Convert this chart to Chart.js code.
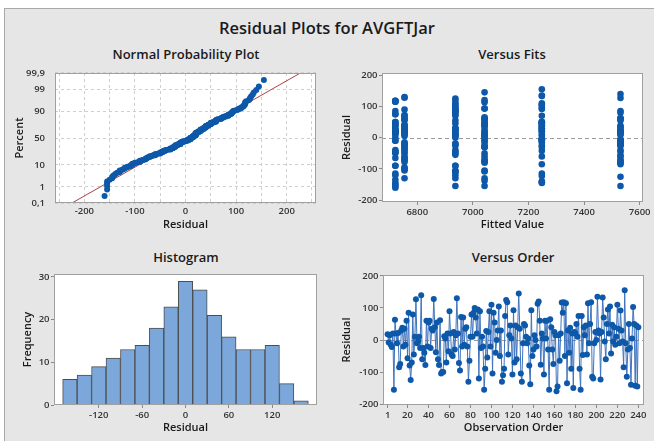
<!DOCTYPE html>
<html><head><meta charset="utf-8">
<script src="https://cdn.jsdelivr.net/npm/chart.js@4.4.1/dist/chart.umd.min.js"></script>
<style>
html,body{margin:0;padding:0;background:#fff;width:654px;height:441px;overflow:hidden;font-family:"Open Sans",sans-serif;}
#frame{position:absolute;left:4px;top:8px;width:650px;height:433px;background:#e6e6e6;border-left:1px solid #a8a8a8;border-top:1px solid #a8a8a8;box-sizing:border-box;}
.t{position:absolute;transform:translate(-50%,-50%);white-space:nowrap;font-weight:600;color:#1a1a1a;}
canvas{position:absolute;}
</style></head><body>
<div id="frame"></div>
<div class="t" style="left:327px;top:27px;font-size:16.5px">Residual Plots for AVGFTJar</div>
<div class="t" style="left:186px;top:54px;font-size:13px">Normal Probability Plot</div>
<div class="t" style="left:512px;top:54px;font-size:13px">Versus Fits</div>
<div class="t" style="left:186px;top:257px;font-size:13px">Histogram</div>
<div class="t" style="left:513px;top:257px;font-size:13px">Versus Order</div>
<canvas id="c1" width="327" height="200" style="left:0;top:40px"></canvas>
<canvas id="c2" width="327" height="200" style="left:327px;top:40px"></canvas>
<canvas id="c3" width="327" height="201" style="left:0;top:240px"></canvas>
<canvas id="c4" width="327" height="201" style="left:327px;top:240px"></canvas>
<script>
// ---- data ----
const residuals = [
 18, -8, 15, -15, -22, 20, -155, 63, 20, -10,
 22, -85, -75, 30, 38, -20, 35, -15, 60, -57,
 85, -80, -125, -70, 80, -45, 10, 127, -10, -5,
 10, -25, 140, -60, -25, -40, -78, 60, -20, 55,
 60, -25, 35, 30, 128, 40, -38, 55, -60, -78,
 62, -105, -100, -100, 12, 5, -70, 20, -35, 90,
 20, -45, -50, 25, -30, 15, 130, 20, -72, -95,
 72, -20, 70, -15, 35, 40, -20, -130, -65, 10,
 80, 10, 85, 100, 70, 20, 95, -120, 90, -25,
 10, -20, -155, -90, 28, -55, 25, 90, -20, 110,
 -105, 85, 55, -40, 0, 30, 105, -50, 30, -130,
 -110, -90, 75, 125, 118, -45, 15, 45, 5, -108,
 93, -70, 45, -60, 40, 145, 35, -105, -130, -10,
 50, 45, 10, -10, 5, -80, -138, 93, -50, -30,
 15, 0, -20, 113, 120, 60, -77, 20, 5, -108,
 60, 5, 60, -30, -155, 65, 40, -30, -75, 25,
 15, -160, -145, 15, -65, 20, 117, 85, 118, -50,
 115, -135, 30, -40, 38, -90, 20, -150, 25, 20,
 50, 10, 75, -90, -155, 75, -47, 40, 15, 45,
 -45, 115, -10, 50, 118, -115, -120, -10, 25, 0,
 135, 30, 20, -123, 25, 133, 70, -5, -60, 50,
 95, 20, 105, -42, 48, -5, 40, -15, 10, 110,
 35, -10, 92, 30, -5, -85, 155, -10, -115, -30,
 50, -25, -140, 5, 103, 50, -143, 45, -145, 40
];
const fittedByBlock = [7531, 6754, 6937, 7042, 6721, 7248]; // fitted value of each block of 40 observations
const blockSize = 40;
const histCenters = [-160,-140,-120,-100,-80,-60,-40,-20,0,20,40,60,80,100,120,140,160];
const histCounts  = [6,7,9,11,13,14,18,23,29,27,21,16,13,13,14,5,1];
const probTicks  = [0.1, 1, 10, 50, 90, 99, 99.9];
const probLabels = ['0,1','1','10','50','90','99','99,9'];
const npXTicks   = [-250,-200,-150,-100,-50,0,50,100,150,200,250];
const fitsXTicks = [6800,7000,7200,7400,7600];
const residTicks = [-200,-100,0,100,200];
const histXTicks = [-120,-60,0,60,120];
const histYTicks = [0,10,20,30];
const orderTicks = [1,20,40,60,80,100,120,140,160,180,200,220,240];

// ---- helpers ----
function invNorm(p){
 const a=[-3.969683028665376e+01,2.209460984245205e+02,-2.759285104469687e+02,1.383577518672690e+02,-3.066479806614716e+01,2.506628277459239e+00];
 const b=[-5.447609879822406e+01,1.615858368580409e+02,-1.556989798598866e+02,6.680131188771972e+01,-1.328068155288572e+01];
 const c=[-7.784894002430293e-03,-3.223964580411365e-01,-2.400758277161838e+00,-2.549732539343734e+00,4.374664141464968e+00,2.938163982698783e+00];
 const d=[7.784695709041462e-03,3.224671290700398e-01,2.445134137142996e+00,3.754408661907416e+00];
 const pl=0.02425, ph=1-pl; let q,r;
 if(p<pl){q=Math.sqrt(-2*Math.log(p));return (((((c[0]*q+c[1])*q+c[2])*q+c[3])*q+c[4])*q+c[5])/((((d[0]*q+d[1])*q+d[2])*q+d[3])*q+1);}
 if(p<=ph){q=p-0.5;r=q*q;return (((((a[0]*r+a[1])*r+a[2])*r+a[3])*r+a[4])*r+a[5])*q/(((((b[0]*r+b[1])*r+b[2])*r+b[3])*r+b[4])*r+1);}
 q=Math.sqrt(-2*Math.log(1-p));return -(((((c[0]*q+c[1])*q+c[2])*q+c[3])*q+c[4])*q+c[5])/((((d[0]*q+d[1])*q+d[2])*q+d[3])*q+1);
}
const n = residuals.length;
const sorted = residuals.slice().sort((a,b)=>a-b);
const probPoints = sorted.map((v,i)=>({x:v, y:invNorm((i+1-0.3)/(n+0.4))}));
const mean = residuals.reduce((s,v)=>s+v,0)/n;
const sd = Math.sqrt(residuals.reduce((s,v)=>s+(v-mean)*(v-mean),0)/(n-1));
const zMax = invNorm(0.999);
const fitLine = [{x:mean-sd*zMax*1.2, y:-zMax*1.2},{x:mean+sd*zMax*1.2, y:zMax*1.2}];
const fitsPoints = residuals.map((v,i)=>({x:fittedByBlock[Math.floor(i/blockSize)], y:v}));
const orderPoints = residuals.map((v,i)=>({x:i+1, y:v}));
const histPoints = histCenters.map((cx,i)=>({x:cx, y:histCounts[i]}));

// ---- style ----
const BLUE = '#0d58a8';
const tickFont = {family:"'Open Sans', sans-serif", size:9.5, weight:'600'};
const titleFont = {family:"'Open Sans', sans-serif", size:11, weight:'600'};
const TICKC = '#333';
Chart.defaults.font.family = "'Open Sans', sans-serif";

const plotArea = {
 id:'plotArea',
 beforeDraw(chart){
  const {ctx, chartArea:a} = chart;
  ctx.save(); ctx.fillStyle='#fff'; ctx.fillRect(a.left,a.top,a.right-a.left,a.bottom-a.top); ctx.restore();
 },
 beforeDatasetsDraw(chart, args, opts){
  if(!opts.zeroLine) return;
  const {ctx, chartArea:a, scales} = chart;
  const y = Math.round(scales.y.getPixelForValue(0))+0.5;
  ctx.save(); ctx.strokeStyle='#9a9a9a'; ctx.lineWidth=1; ctx.setLineDash([4,3]);
  ctx.beginPath(); ctx.moveTo(a.left,y); ctx.lineTo(a.right,y); ctx.stroke(); ctx.restore();
 },
 afterDraw(chart){
  const {ctx, chartArea:a} = chart;
  ctx.save(); ctx.strokeStyle='#a0a0a0'; ctx.lineWidth=1;
  ctx.strokeRect(Math.round(a.left)+0.5, Math.round(a.top)+0.5, Math.round(a.right-a.left)-1, Math.round(a.bottom-a.top)-1);
  ctx.restore();
 }
};
Chart.register(plotArea);

function setTicks(arr){ return s => { s.ticks = arr.map(v=>({value:v})); }; }
function xAxis(o){
 return Object.assign({
  type:'linear', offset:false,
  afterFit: s => { s.height = o.h; },
  afterBuildTicks: setTicks(o.ticks),
  ticks:{font:tickFont, color:TICKC, padding:1.5, maxRotation:0, autoSkip:false, callback:v=>String(v)},
  grid:{display:true, drawOnChartArea:false, drawTicks:true, tickLength:3, tickColor:'#888', offset:false},
  border:{display:false},
  title:{display:true, text:o.title, font:titleFont, color:'#1a1a1a', padding:{top:0,bottom:o.tb}}
 }, o.extra||{});
}
function yAxis(o){
 return Object.assign({
  type:'linear',
  afterFit: s => { s.width = o.w; },
  afterBuildTicks: setTicks(o.ticks),
  ticks:{font:tickFont, color:TICKC, padding:1.5, autoSkip:false, callback:v=>String(v)},
  grid:{display:true, drawOnChartArea:false, drawTicks:true, tickLength:3, tickColor:'#888'},
  border:{display:false},
  title:{display:true, text:o.title, font:titleFont, color:'#1a1a1a', padding:{top:o.tp,bottom:0}}
 }, o.extra||{});
}
const base = {responsive:false, animation:false, events:[], plugins:{legend:{display:false}, tooltip:{enabled:false}}};

// ---- Normal probability plot ----
const x1 = xAxis({h:37, ticks:npXTicks, title:'Residual', tb:8.4});
x1.min=-258; x1.max=258;
x1.ticks = Object.assign({}, x1.ticks, {padding:3, callback:v=> v%100===0 ? String(v) : ''});
x1.grid = {display:true, color:'#cfcfcf', drawTicks:false};
x1.border = {display:false, dash:[3,3]};
const y1 = yAxis({w:55, ticks:probTicks.map(p=>invNorm(p/100)), title:'Percent', tp:13.4});
y1.min=-zMax; y1.max=zMax;
y1.ticks = Object.assign({}, y1.ticks, {padding:10, callback:(v,i)=>probLabels[i]});
y1.grid = {display:true, color:'#cfcfcf', drawTicks:false};
y1.border = {display:false, dash:[3,3]};
new Chart(document.getElementById('c1'), {
 type:'scatter',
 data:{datasets:[
  {data:probPoints, backgroundColor:BLUE, borderColor:BLUE, pointRadius:3, pointBorderWidth:0},
  {type:'line', data:fitLine, borderColor:'#b04040', borderWidth:1, pointRadius:0, fill:false}
 ]},
 options:Object.assign({}, base, {layout:{padding:{left:0,top:33,right:11,bottom:0}}, scales:{x:x1, y:y1}})
});

// ---- Versus fits ----
const x2 = xAxis({h:38, ticks:fitsXTicks, title:'Fitted Value', tb:8.4}); x2.min=6673; x2.max=7612;
const y2 = yAxis({w:55, ticks:residTicks, title:'Residual', tp:13.4}); y2.min=-206; y2.max=207;
new Chart(document.getElementById('c2'), {
 type:'scatter',
 data:{datasets:[{data:fitsPoints, backgroundColor:BLUE, borderColor:BLUE, pointRadius:3.3, pointBorderWidth:0}]},
 options:Object.assign({}, base, {layout:{padding:{left:0,top:33,right:11,bottom:0}}, scales:{x:x2, y:y2},
   plugins:{legend:{display:false}, tooltip:{enabled:false}, plotArea:{zeroLine:true}}})
});

// ---- Histogram ----
const x3 = xAxis({h:36, ticks:histXTicks, title:'Residual', tb:6.4}); x3.min=-182; x3.max=182;
const y3 = yAxis({w:54, ticks:histYTicks, title:'Frequency', tp:21.4}); y3.min=0; y3.max=30.7;
new Chart(document.getElementById('c3'), {
 type:'bar',
 data:{datasets:[{data:histPoints, backgroundColor:'#7ba7da', borderColor:'#4d4d4d', borderWidth:1,
   barPercentage:1, categoryPercentage:1, borderSkipped:'start'}]},
 options:Object.assign({}, base, {layout:{padding:{left:0,top:34,right:10,bottom:0}}, scales:{x:x3, y:y3}})
});

// ---- Versus order ----
const x4 = xAxis({h:36, ticks:orderTicks, title:'Observation Order', tb:6.4}); x4.min=-3.4; x4.max=245.4;
const y4 = yAxis({w:56, ticks:residTicks, title:'Residual', tp:13.1}); y4.min=-203; y4.max=203;
new Chart(document.getElementById('c4'), {
 type:'line',
 data:{datasets:[{data:orderPoints, borderColor:'#3f74bd', borderWidth:1, tension:0,
   pointRadius:3, pointBackgroundColor:BLUE, pointBorderWidth:0, fill:false}]},
 options:Object.assign({}, base, {layout:{padding:{left:0,top:35,right:10,bottom:0}}, scales:{x:x4, y:y4},
   plugins:{legend:{display:false}, tooltip:{enabled:false}, plotArea:{zeroLine:true}}})
});
</script>
</body></html>
